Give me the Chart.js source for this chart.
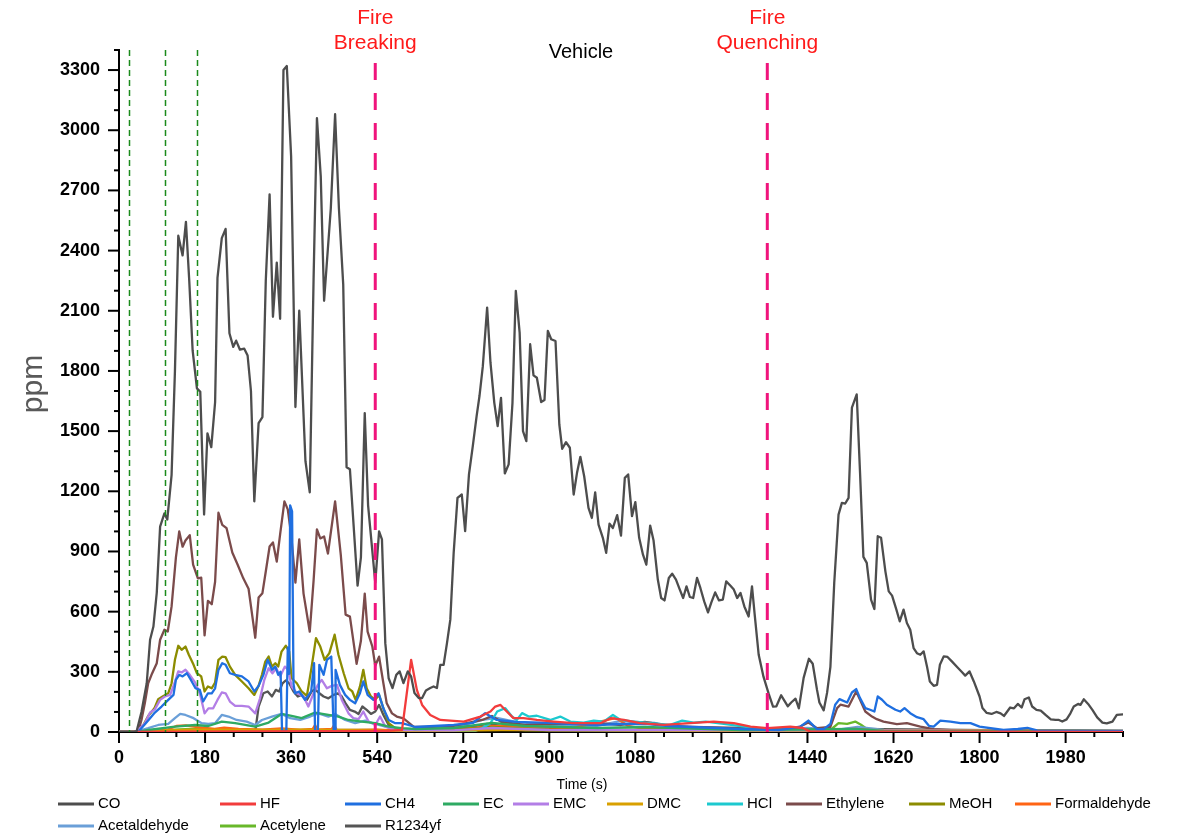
<!DOCTYPE html>
<html>
<head>
<meta charset="utf-8">
<script src="https://cdn.jsdelivr.net/npm/chart.js@4.4.0/dist/chart.umd.min.js"></script>
<style>
  html, body { margin: 0; padding: 0; background: #fff; }
  canvas { display: block; }
</style>
</head>
<body>
<canvas id="chart" width="1183" height="837"></canvas>
<script>
// [time (s), ppm]
var CO = [[0,0],[30,0],[37,5],[47,100],[58,243],[65,460],[72,526],[79,695],[86,1024],[95,1090],[101,1059],[110,1282],[117,1799],[124,2474],[133,2376],[140,2543],[147,2247],[154,1902],[163,1713],[170,1696],[178,1084],[185,1489],[193,1420],[201,1644],[206,2264],[215,2462],[223,2508],[231,1988],[239,1920],[245,1951],[253,1906],[262,1911],[269,1877],[276,1700],[283,1150],[292,1540],[300,1570],[307,2250],[315,2680],[322,2070],[330,2340],[337,2060],[344,3300],[351,3320],[360,2870],[369,1620],[377,2100],[390,1350],[399,1195],[407,2260],[414,3060],[422,2770],[429,2150],[443,2610],[452,3080],[460,2610],[469,2230],[476,1320],[483,1310],[499,730],[506,870],[514,1590],[521,1130],[536,745],[544,1000],[550,960],[557,443],[564,268],[572,219],[580,285],[587,302],[595,244],[604,302],[611,277],[618,194],[627,169],[634,169],[642,207],[651,219],[658,227],[665,219],[672,335],[679,335],[686,443],[693,560],[700,893],[708,1167],[717,1184],[724,1001],[732,1284],[740,1425],[748,1575],[754,1675],[761,1824],[770,2116],[777,1841],[785,1641],[792,1525],[799,1666],[807,1289],[815,1334],[823,1641],[830,2199],[838,1991],[845,1500],[852,1450],[860,1933],[867,1778],[874,1766],[883,1645],[890,1655],[897,2000],[904,1958],[913,1949],[921,1533],[927,1412],[935,1445],[943,1417],[951,1184],[958,1292],[965,1372],[973,1275],[982,1117],[989,1067],[996,1195],[1003,1034],[1012,968],[1019,893],[1026,1039],[1033,1017],[1042,1081],[1050,979],[1058,1267],[1065,1284],[1073,1076],[1080,1146],[1088,968],[1096,884],[1103,834],[1111,1029],[1118,956],[1127,760],[1134,668],[1141,656],[1150,768],[1157,789],[1165,760],[1173,710],[1180,668],[1187,726],[1194,673],[1201,668],[1209,768],[1216,718],[1224,651],[1232,596],[1239,646],[1247,696],[1255,656],[1263,660],[1270,751],[1279,729],[1286,710],[1293,668],[1300,693],[1308,626],[1317,576],[1324,726],[1330,576],[1338,385],[1348,276],[1359,190],[1368,126],[1375,128],[1385,183],[1399,128],[1406,147],[1415,166],[1422,118],[1432,270],[1443,365],[1451,340],[1460,210],[1465,147],[1474,108],[1481,195],[1488,325],[1496,743],[1505,1084],[1512,1142],[1519,1139],[1526,1167],[1533,1617],[1543,1683],[1550,1292],[1557,873],[1564,843],[1573,660],[1580,613],[1587,976],[1594,968],[1603,801],[1610,701],[1617,680],[1626,610],[1633,552],[1641,610],[1648,543],[1655,510],[1662,418],[1669,393],[1676,385],[1683,402],[1690,327],[1696,252],[1704,230],[1711,235],[1717,335],[1725,377],[1733,374],[1742,352],[1753,324],[1763,299],[1770,281],[1779,302],[1788,252],[1800,177],[1806,120],[1815,95],[1825,90],[1835,100],[1844,93],[1851,80],[1864,122],[1872,118],[1880,140],[1888,122],[1894,163],[1903,172],[1910,127],[1919,110],[1928,107],[1938,85],[1949,63],[1959,60],[1966,60],[1973,52],[1982,63],[1990,93],[1997,127],[2006,140],[2011,135],[2018,163],[2027,140],[2036,110],[2046,73],[2057,47],[2066,43],[2078,52],[2087,85],[2100,88]];

var HF = [[0,0],[560,5],[592,11],[611,360],[623,210],[634,135],[651,85],[672,60],[721,52],[756,77],[777,102],[787,127],[798,135],[808,110],[825,69],[846,69],[874,60],[909,52],[951,44],[1007,44],[1028,69],[1056,60],[1090,44],[1139,36],[1195,44],[1244,52],[1286,44],[1321,27],[1356,19],[1404,27],[1430,20],[1445,3],[2100,0]];

var CH4 = [[0,0],[40,0],[61,57],[75,97],[89,127],[103,160],[114,185],[119,260],[126,285],[133,277],[142,293],[151,257],[160,218],[169,210],[176,152],[186,193],[194,193],[201,218],[208,310],[216,343],[223,335],[232,293],[243,285],[257,277],[271,252],[283,202],[292,230],[302,285],[311,360],[320,310],[327,326],[333,285],[338,300],[341,5],[350,5],[353,420],[356,290],[358,1130],[362,1100],[365,240],[368,193],[377,202],[389,160],[402,202],[408,343],[410,5],[416,5],[419,335],[428,285],[435,360],[444,376],[449,5],[452,5],[453,310],[462,235],[473,185],[483,160],[494,143],[504,193],[511,252],[520,185],[532,160],[543,193],[553,118],[564,60],[578,44],[592,44],[620,25],[660,30],[700,35],[740,45],[766,94],[790,60],[830,50],[900,45],[950,40],[1000,35],[1050,40],[1100,40],[1150,30],[1200,25],[1300,15],[1380,10],[1425,27],[1442,57],[1460,14],[1474,14],[1488,40],[1498,136],[1507,164],[1523,147],[1533,197],[1542,214],[1550,169],[1561,119],[1571,111],[1580,102],[1587,177],[1596,161],[1606,136],[1624,111],[1634,102],[1643,119],[1655,94],[1669,74],[1683,64],[1694,31],[1704,27],[1718,57],[1739,52],[1760,44],[1781,44],[1800,27],[1850,10],[1880,15],[1900,20],[1920,8],[2100,5]];

var EC = [[0,0],[40,0],[61,10],[117,27],[159,35],[187,30],[215,52],[243,44],[285,27],[313,47],[340,90],[361,80],[382,69],[410,97],[438,85],[459,77],[480,60],[508,52],[536,44],[564,27],[592,19],[620,15],[700,20],[780,45],[850,30],[1000,20],[1100,25],[1300,10],[1540,15],[1600,5],[2100,3]];

var EMC = [[0,0],[37,2],[54,44],[65,97],[75,113],[86,160],[96,177],[107,185],[116,243],[124,302],[131,297],[139,310],[148,285],[159,247],[169,193],[179,93],[187,118],[197,118],[206,160],[215,197],[223,193],[232,152],[243,130],[257,130],[271,127],[285,93],[295,168],[304,260],[313,318],[321,293],[329,318],[337,277],[347,326],[354,310],[361,227],[372,193],[386,177],[396,127],[407,193],[416,235],[424,260],[435,218],[445,230],[456,235],[466,160],[480,93],[490,69],[501,64],[511,102],[522,52],[536,35],[546,77],[557,27],[578,10],[700,8],[780,20],[900,10],[1540,8],[2100,3]];

var DMC = [[0,0],[60,3],[100,8],[150,12],[300,10],[400,12],[500,8],[600,4],[800,10],[1000,8],[1300,5],[2000,8],[2100,5]];

var HCl = [[0,0],[740,0],[760,20],[777,44],[791,102],[808,119],[822,77],[832,60],[843,94],[857,77],[874,81],[902,60],[923,77],[944,52],[972,47],[993,57],[1014,52],[1033,85],[1049,60],[1077,52],[1111,44],[1153,36],[1178,57],[1202,47],[1227,52],[1265,41],[1307,27],[1349,14],[1380,5],[2100,0]];

var Ethylene = [[0,0],[40,0],[47,60],[54,143],[61,243],[68,285],[79,343],[86,460],[95,510],[102,501],[110,626],[119,869],[126,1000],[133,924],[139,955],[148,981],[155,835],[165,766],[172,769],[179,482],[186,654],[194,637],[201,749],[208,1093],[216,1033],[225,1016],[237,895],[248,835],[260,766],[271,714],[281,540],[285,470],[292,670],[300,692],[307,800],[315,925],[322,945],[330,850],[337,985],[346,1150],[353,1110],[360,985],[369,745],[377,960],[386,690],[399,500],[407,755],[414,1010],[421,965],[429,975],[437,890],[452,1150],[464,880],[474,585],[483,575],[497,340],[506,455],[514,690],[520,500],[530,425],[536,330],[544,376],[553,243],[560,143],[571,93],[581,77],[595,68],[616,27],[640,25],[700,30],[760,60],[780,80],[800,50],[850,35],[900,40],[1000,45],[1050,35],[1100,50],[1150,30],[1200,25],[1300,20],[1400,10],[1425,27],[1442,47],[1460,19],[1488,25],[1502,119],[1509,136],[1526,127],[1542,202],[1550,161],[1561,102],[1575,77],[1585,64],[1599,52],[1627,39],[1648,44],[1676,27],[1704,14],[1750,8],[2100,5]];

var MeOH = [[0,0],[37,2],[51,35],[61,80],[74,118],[82,163],[93,180],[103,193],[110,243],[117,360],[124,430],[131,410],[139,426],[146,385],[156,335],[163,293],[172,277],[179,202],[186,227],[194,218],[201,247],[208,360],[216,376],[223,373],[232,326],[243,285],[257,252],[271,218],[283,185],[292,230],[299,285],[306,351],[313,376],[320,326],[327,343],[333,326],[340,401],[349,430],[356,401],[361,268],[372,243],[382,202],[393,180],[403,326],[412,468],[421,426],[430,360],[440,393],[451,485],[459,385],[470,293],[480,218],[488,202],[495,160],[504,227],[511,310],[518,218],[527,177],[536,160],[544,185],[553,118],[564,44],[578,19],[599,10],[700,10],[780,25],[900,10],[1540,10],[2100,3]];

var Formaldehyde = [[0,0],[60,3],[100,10],[120,30],[140,33],[160,25],[200,15],[220,22],[250,15],[300,12],[340,18],[380,10],[405,15],[410,35],[415,12],[445,15],[450,35],[455,12],[500,10],[540,12],[600,5],[700,10],[780,30],[850,25],[950,20],[1040,70],[1065,30],[1100,15],[1300,10],[1400,5],[1540,15],[1600,3],[2100,3]];

var Acetaldehyde = [[0,0],[33,0],[61,19],[82,35],[103,40],[117,69],[128,90],[139,85],[156,69],[173,44],[187,40],[201,44],[215,85],[229,77],[246,60],[267,52],[285,35],[299,60],[320,77],[340,90],[358,69],[379,60],[400,77],[417,93],[438,77],[452,90],[473,60],[494,44],[515,57],[536,40],[557,27],[585,10],[620,8],[700,20],[760,60],[790,70],[830,50],[900,35],[1000,30],[1050,55],[1080,50],[1120,45],[1150,30],[1250,15],[1350,8],[1440,20],[1500,10],[1545,25],[1600,10],[2100,5]];

var Acetylene = [[0,0],[60,5],[150,15],[300,10],[540,10],[600,5],[700,10],[780,20],[850,10],[1000,8],[1400,5],[1440,10],[1460,3],[1488,10],[1505,44],[1523,41],[1540,52],[1552,36],[1565,14],[1600,5],[2100,3]];

var R1234yf = [[0,0],[283,0],[285,2],[292,127],[302,193],[311,202],[320,177],[328,210],[335,202],[342,243],[349,257],[356,243],[365,202],[374,177],[382,185],[393,160],[403,202],[410,213],[419,193],[428,177],[438,168],[449,185],[458,193],[466,177],[474,143],[483,110],[493,102],[501,90],[509,127],[518,110],[527,90],[536,102],[544,135],[553,85],[564,35],[578,19],[599,10],[700,10],[770,40],[800,30],[900,15],[1000,10],[1440,10],[1540,15],[2100,3]];

var seriesNames = ['CO', 'HF', 'CH4', 'EC', 'EMC', 'DMC', 'HCl', 'Ethylene', 'MeOH', 'Formaldehyde', 'Acetaldehyde', 'Acetylene', 'R1234yf'];
var seriesData = [CO, HF, CH4, EC, EMC, DMC, HCl, Ethylene, MeOH, Formaldehyde, Acetaldehyde, Acetylene, R1234yf];
var seriesColors = ['#4d4d4d', '#f23c3c', '#1f6fe0', '#2eaa63', '#b37ee6', '#d9a000', '#1cc9cf', '#7b4b4b', '#8c8c00', '#ff6414', '#6a9fd8', '#68b82a', '#555555'];

// event markers (s)
var inletMarks = [21, 96, 163];
var fireMarks = [536, 1356];

// legend placement (two rows, like the original figure)
var legendSpots = [[58,804],[220,804],[345,804],[443,804],[513,804],[607,804],[707,804],[786,804],[909,804],[1015,804],[58,826],[220,826],[345,826]];

Chart.defaults.font.family = 'Arial, "Liberation Sans", sans-serif';
Chart.defaults.color = '#000';

var decorations = {
  id: 'decorations',
  afterDatasetsDraw: function (chart) {
    var ctx = chart.ctx, a = chart.chartArea, x = chart.scales.x;
    ctx.save();
    ctx.lineWidth = 1.5;
    ctx.strokeStyle = '#1b8a1b';
    ctx.setLineDash([6, 4]);
    inletMarks.forEach(function (t) {
      var px = Math.round(x.getPixelForValue(t)) + 0.5;
      ctx.beginPath(); ctx.moveTo(px, a.top); ctx.lineTo(px, a.bottom); ctx.stroke();
    });
    ctx.lineWidth = 3;
    ctx.strokeStyle = '#f0147c';
    ctx.setLineDash([17, 13]);
    fireMarks.forEach(function (t) {
      var px = x.getPixelForValue(t);
      ctx.beginPath(); ctx.moveTo(px, a.top + 13); ctx.lineTo(px, a.bottom); ctx.stroke();
    });
    ctx.restore();
  },
  afterDraw: function (chart) {
    var ctx = chart.ctx, a = chart.chartArea, x = chart.scales.x, y = chart.scales.y;
    ctx.save();
    // tick marks, long on labelled ticks
    ctx.strokeStyle = '#000';
    ctx.lineWidth = 2;
    x.ticks.forEach(function (tk) {
      var px = x.getPixelForValue(tk.value), len = tk.value % 180 === 0 ? 11 : 5;
      ctx.beginPath(); ctx.moveTo(px, a.bottom); ctx.lineTo(px, a.bottom + len); ctx.stroke();
    });
    y.ticks.forEach(function (tk) {
      var py = y.getPixelForValue(tk.value), len = tk.value % 300 === 0 ? 11 : 5;
      ctx.beginPath(); ctx.moveTo(a.left - len, py); ctx.lineTo(a.left, py); ctx.stroke();
    });

    ctx.textAlign = 'center';
    ctx.textBaseline = 'middle';
    ctx.fillStyle = '#ff1a1a';
    ctx.font = '21px Arial, "Liberation Sans", sans-serif';
    var b = x.getPixelForValue(fireMarks[0]), q = x.getPixelForValue(fireMarks[1]);
    ctx.fillText('Fire', b, 18);
    ctx.fillText('Breaking', b, 43);
    ctx.fillText('Fire', q, 18);
    ctx.fillText('Quenching', q, 43);
    ctx.fillStyle = '#000';
    ctx.font = '20px Arial, "Liberation Sans", sans-serif';
    ctx.fillText('Vehicle', 581, 52);

    ctx.font = '14px Arial, "Liberation Sans", sans-serif';
    ctx.fillText('Time (s)', 582, 785);

    ctx.save();
    ctx.translate(34, 384);
    ctx.rotate(-Math.PI / 2);
    ctx.fillStyle = '#595959';
    ctx.font = '30px Arial, "Liberation Sans", sans-serif';
    ctx.fillText('ppm', 0, 0);
    ctx.restore();

    // legend
    ctx.textAlign = 'left';
    ctx.font = '15px Arial, "Liberation Sans", sans-serif';
    ctx.lineWidth = 3;
    seriesNames.forEach(function (name, i) {
      var p = legendSpots[i];
      ctx.strokeStyle = seriesColors[i];
      ctx.beginPath(); ctx.moveTo(p[0], p[1]); ctx.lineTo(p[0] + 36, p[1]); ctx.stroke();
      ctx.fillStyle = '#000';
      ctx.fillText(name, p[0] + 40, p[1]);
    });
    ctx.restore();
  }
};

var ctx = document.getElementById('chart').getContext('2d');
var myChart = new Chart(ctx, {
  type: 'line',
  data: {
    datasets: seriesNames.map(function (name, i) {
      return {
        label: name,
        data: seriesData[i].map(function (p) { return { x: p[0], y: p[1] }; }),
        borderColor: seriesColors[i],
        backgroundColor: seriesColors[i],
        borderWidth: 2.3,
        borderJoinStyle: 'round',
        borderCapStyle: 'round',
        pointRadius: 0,
        tension: 0,
        fill: false
      };
    })
  },
  options: {
    responsive: false,
    animation: false,
    devicePixelRatio: 1,
    layout: { padding: { top: 50, right: 60, left: 0, bottom: 0 } },
    plugins: { legend: { display: false }, tooltip: { enabled: false } },
    scales: {
      x: {
        type: 'linear',
        min: 0,
        max: 2100,
        grid: { display: false, tickLength: 11 },
        border: { display: true, color: '#000', width: 2 },
        ticks: {
          stepSize: 60,
          autoSkip: false,
          maxRotation: 0,
          padding: 4,
          color: '#000',
          font: { size: 18, weight: 'bold' },
          callback: function (v) { return v % 180 === 0 ? String(v) : ''; }
        },
        afterFit: function (s) { s.height = 105; }
      },
      y: {
        type: 'linear',
        min: 0,
        max: 3400,
        grid: { display: false, tickLength: 11 },
        border: { display: true, color: '#000', width: 2 },
        ticks: {
          stepSize: 100,
          autoSkip: false,
          padding: 8,
          color: '#000',
          font: { size: 18, weight: 'bold' },
          callback: function (v) { return v % 300 === 0 ? String(v) : ''; }
        },
        afterFit: function (s) { s.width = 119; }
      }
    }
  },
  plugins: [decorations]
});
</script>
</body>
</html>
